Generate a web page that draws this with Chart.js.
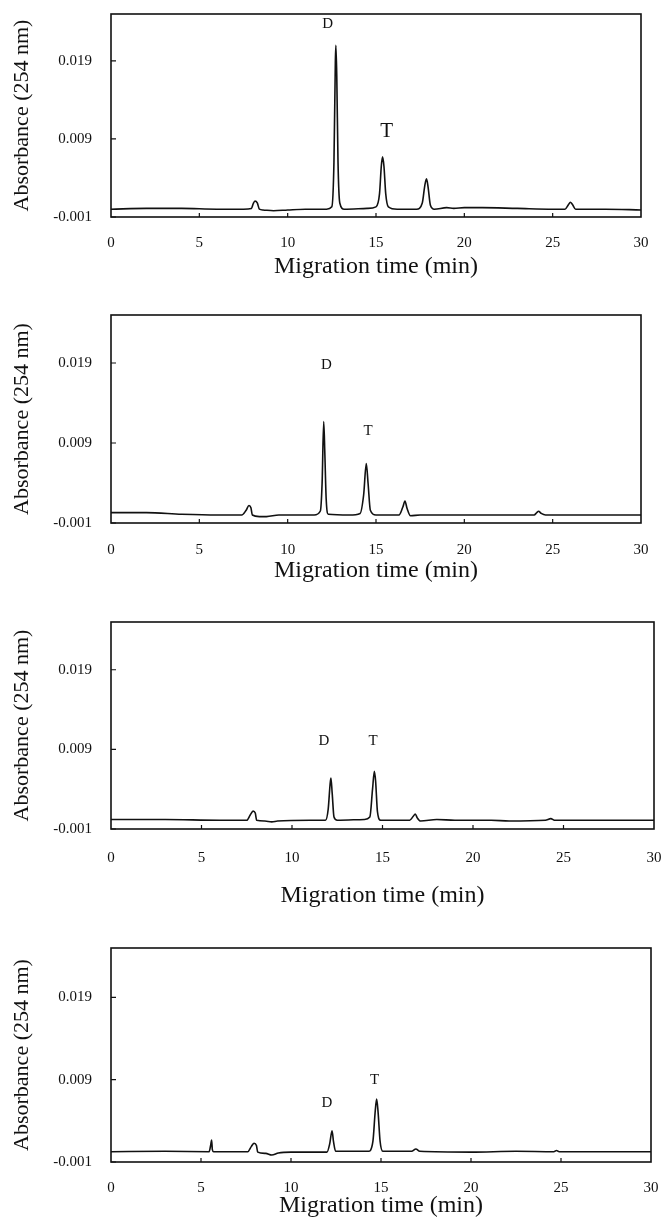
<!DOCTYPE html>
<html>
<head>
<meta charset="utf-8">
<script src="https://cdn.jsdelivr.net/npm/chart.js@4/dist/chart.umd.min.js"></script>
<style>
  body { margin: 0; background: #fff; width: 663px; height: 1224px; position: relative; overflow: hidden; }
  .panel { position: absolute; left: 0; width: 663px; }
</style>
</head>
<body>
<div class="panel" style="top:0px;height:285px"><canvas id="c1"></canvas></div>
<div class="panel" style="top:290px;height:295px"><canvas id="c2"></canvas></div>
<div class="panel" style="top:590px;height:320px"><canvas id="c3"></canvas></div>
<div class="panel" style="top:910px;height:314px"><canvas id="c4"></canvas></div>
<script>
// tick values shared by all four electropherograms
const xTicks = [0, 5, 10, 15, 20, 25, 30];
const yTicks = [-0.001, 0.009, 0.019];

// panel 1
const time1 = [0, 2, 4, 6, 7.5, 7.95, 8.05, 8.15, 8.28, 8.4, 8.6, 9.2, 10, 11, 12.2, 12.5, 12.62, 12.7, 12.73, 12.78, 12.85, 12.95, 13.2,
  14.5, 15.0, 15.2, 15.3, 15.37, 15.45, 15.55, 15.7, 16.2, 17.3, 17.62, 17.76, 17.86, 17.95, 18.08, 18.3, 19, 19.4, 20, 21, 23, 25,
  25.7, 25.9, 26.0, 26.12, 26.3, 28, 30];
const abs1 = [0, 0.0001, 0.0001, 0, 0, 0.0001, 0.0007, 0.00105, 0.0008, 0, -0.0001, -0.0002, -0.0001, 0, 0, 0.0003, 0.006, 0.019, 0.021, 0.017, 0.006, 0.0008, 0,
  0.0001, 0.0003, 0.002, 0.0055, 0.0067, 0.0055, 0.002, 0.0003, 0, 0, 0.0008, 0.003, 0.0039, 0.0028, 0.0005, 0, 0.0002, 0.0001, 0.0002, 0.0002, 0.0001, 0,
  0, 0.0006, 0.00088, 0.0006, 0, 0, -0.0001];

// panel 2
const time2 = [0, 2, 4, 6, 7.4, 7.65, 7.81, 7.92, 8.0, 8.4, 8.8, 9.5, 11.5, 11.85, 11.95, 12.04, 12.1, 12.18, 12.3, 13.5,
  14.1, 14.3, 14.45, 14.55, 14.68, 15, 16.3, 16.52, 16.64, 16.76, 16.95, 17.5, 20, 23, 23.95, 24.1, 24.2, 24.35, 24.6, 27, 30];
const abs2 = [0.0003, 0.0003, 0.0001, 0, 0, 0.0006, 0.00118, 0.0009, 0, -0.0002, -0.0002, 0, 0, 0.0005, 0.004, 0.01167, 0.008, 0.002, 0.0001, 0,
  0.0002, 0.0025, 0.00642, 0.004, 0.0006, 0, 0, 0.001, 0.00173, 0.0008, -0.0001, 0, 0, 0, 0, 0.0003, 0.00047, 0.0002, 0, 0, 0];

// panel 3
const time3 = [0, 3, 6, 7.5, 7.7, 7.85, 7.97, 8.05, 8.5, 8.88, 9.2, 11, 11.85, 12.0, 12.1, 12.15, 12.22, 12.32, 12.5,
  14, 14.3, 14.45, 14.55, 14.62, 14.72, 14.9, 16.5, 16.7, 16.81, 16.92, 17.1, 18, 19, 21, 22, 24, 24.3, 24.5, 27, 30];
const abs3 = [0.0002, 0.0002, 0.0001, 0.0001, 0.0008, 0.00125, 0.001, 0.0001, 0, -0.0001, 0, 0.0001, 0.0001, 0.0015, 0.0045, 0.0054, 0.0035, 0.0005, 0.0001,
  0.0002, 0.0005, 0.004, 0.00625, 0.005, 0.0012, 0.0001, 0.0001, 0.0006, 0.00088, 0.0004, 0, 0.0002, 0.0001, 0.0001, 0, 0.0001, 0.0003, 0.0001, 0.0001, 0.0001];

// panel 4
const time4 = [0, 3, 5.45, 5.55, 5.59, 5.63, 5.7, 7.6, 7.8, 7.95, 8.08, 8.15, 8.6, 8.93, 9.3, 10, 12.0, 12.15, 12.28, 12.36, 12.48,
  14.3, 14.55, 14.68, 14.76, 14.84, 14.95, 15.1, 16.7, 16.94, 17.15, 20, 22.5, 24.6, 24.75, 24.9, 30];
const abs4 = [0.00025, 0.0003, 0.00025, 0.0012, 0.00167, 0.0005, 0.00025, 0.00025, 0.0009, 0.00127, 0.001, 0.0002, 0.00005, -0.00015, 0.0001, 0.0002, 0.0002, 0.0012, 0.0028, 0.0015, 0.0003,
  0.0003, 0.0015, 0.0052, 0.00664, 0.005, 0.0015, 0.0003, 0.0003, 0.00058, 0.0003, 0.0002, 0.0003, 0.00025, 0.0004, 0.00025, 0.00025];

// peak labels: [text, time, absorbance]
const labels1 = [["D", 12.26, 0.0237], ["T", 15.6, 0.0099]];
const labels2 = [["D", 12.2, 0.0188], ["T", 14.55, 0.0105]];
const labels3 = [["D", 11.77, 0.0100], ["T", 14.48, 0.0100]];
const labels4 = [["D", 12.0, 0.0062], ["T", 14.65, 0.0089]];

const serif = "'Liberation Serif', 'Times New Roman', serif";

const framePlugin = {
  id: "frame",
  afterDatasetsDraw(chart) {
    const { ctx, chartArea: a, scales } = chart;
    ctx.save();
    ctx.strokeStyle = "#111";
    ctx.lineWidth = 1.6;
    ctx.strokeRect(a.left, a.top, a.right - a.left, a.bottom - a.top);
    ctx.lineWidth = 1.2;
    ctx.beginPath();
    scales.x.ticks.forEach(t => {
      const px = scales.x.getPixelForValue(t.value);
      if (px > a.left + 2 && px < a.right - 2) {
        ctx.moveTo(px, a.bottom);
        ctx.lineTo(px, a.bottom - 4);
      }
    });
    scales.y.ticks.forEach(t => {
      const py = scales.y.getPixelForValue(t.value);
      ctx.moveTo(a.left, py);
      ctx.lineTo(a.left + 5, py);
    });
    ctx.stroke();
    // peak names
    ctx.fillStyle = "#111";
    ctx.textAlign = "center";
    ctx.textBaseline = "middle";
    chart.options.plugins.frame.marks.forEach(m => {
      const big = chart.options.plugins.frame.bigT && m[0] === "T";
      ctx.font = (big ? "21px " : "15px ") + serif;
      ctx.fillText(m[0], scales.x.getPixelForValue(m[1]), scales.y.getPixelForValue(m[2]));
    });
    ctx.restore();
  }
};

function makePanel(id, times, values, marks, spec) {
  const pts = times.map((t, i) => ({ x: t, y: values[i] }));
  new Chart(document.getElementById(id), {
    type: "line",
    data: {
      datasets: [{
        data: pts,
        borderColor: "#111",
        borderWidth: 1.6,
        pointRadius: 0,
        cubicInterpolationMode: "monotone",
        fill: false
      }]
    },
    options: {
      responsive: true,
      maintainAspectRatio: false,
      animation: false,
      layout: { padding: { top: spec.top, right: spec.right, left: 0, bottom: 0 } },
      plugins: {
        legend: { display: false },
        tooltip: { enabled: false },
        frame: { marks: marks, bigT: spec.bigT }
      },
      scales: {
        x: {
          type: "linear",
          min: 0,
          max: 30,
          border: { display: false },
          grid: { display: false, drawTicks: false },
          afterBuildTicks: s => { s.ticks = xTicks.map(v => ({ value: v })); },
          afterFit: s => { s.height = spec.xh; s.paddingLeft = 0; s.paddingRight = 0; },
          ticks: { color: "#111", padding: spec.tickPad, font: { family: serif, size: 15 }, maxRotation: 0 },
          title: {
            display: true,
            text: "Migration time (min)",
            color: "#111",
            font: { family: serif, size: 24 },
            padding: { top: 0, bottom: spec.titlePad }
          }
        },
        y: {
          min: -0.001,
          max: 0.025,
          border: { display: false },
          grid: { display: false, drawTicks: false },
          afterBuildTicks: s => { s.ticks = yTicks.map(v => ({ value: v })); },
          afterFit: s => { s.width = 111; s.paddingTop = 0; s.paddingBottom = 0; },
          ticks: { color: "#111", padding: 19, font: { family: serif, size: 15 }, callback: v => v.toFixed(3) },
          title: {
            display: true,
            text: "Absorbance (254 nm)",
            color: "#111",
            font: { family: serif, size: 22 },
            padding: { top: 9, bottom: 0 }
          }
        }
      }
    },
    plugins: [framePlugin]
  });
}

makePanel("c1", time1, abs1, labels1, { top: 14, right: 22, xh: 68, tickPad: 17, titlePad: 4, bigT: true });
makePanel("c2", time2, abs2, labels2, { top: 25, right: 22, xh: 62, tickPad: 18, titlePad: 0, bigT: false });
makePanel("c3", time3, abs3, labels3, { top: 32, right: 9, xh: 81, tickPad: 20, titlePad: 0, bigT: false });
makePanel("c4", time4, abs4, labels4, { top: 38, right: 12, xh: 62, tickPad: 17, titlePad: 4, bigT: false });
</script>
</body>
</html>
